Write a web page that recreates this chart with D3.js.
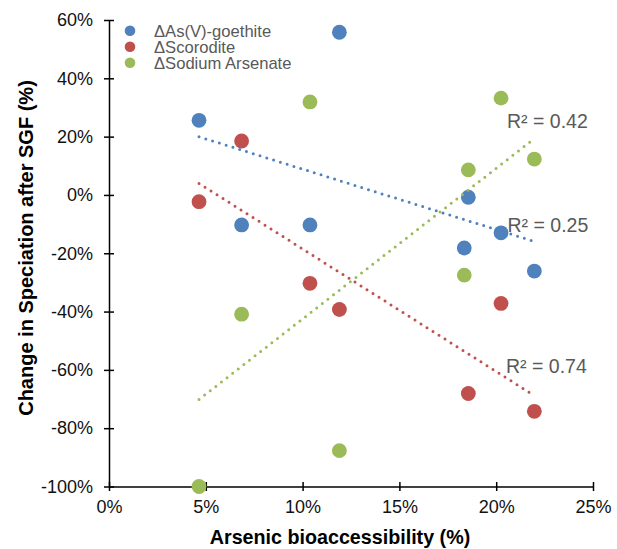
<!DOCTYPE html>
<html>
<head>
<meta charset="utf-8">
<script src="https://cdn.jsdelivr.net/npm/d3@7"></script>
<style>
  html, body { margin: 0; padding: 0; background: #fff; }
  svg { display: block; font-family: "Liberation Sans", Arial, Helvetica, sans-serif; }
</style>
</head>
<body>
<svg id="chart" width="617" height="549"></svg>
<script>
// ---- data ----
const bioaccessibility = [4.65, 6.85, 10.38, 11.9, 18.35, 18.56, 20.25, 21.97]; // %
const goethite  = [25.6, -10.3, -10.3, 55.8, -18.2, -0.8, -13.0, -26.1];
const scorodite = [-2.3, 18.5, -30.3, -39.3, null, -68.1, -37.2, -74.2];
const sodium    = [-100, -40.9, 31.9, -87.7, -27.5, 8.6, 33.2, 12.3];
const seriesNames = ["\u0394As(V)-goethite", "\u0394Scorodite", "\u0394Sodium Arsenate"];
const seriesColors = ["#4F81BD", "#C0504D", "#9BBB59"];
const r2Labels = ["R\u00B2 = 0.25", "R\u00B2 = 0.74", "R\u00B2 = 0.42"];
const xTicks = [0, 5, 10, 15, 20, 25];
const yTicks = [-100, -80, -60, -40, -20, 0, 20, 40, 60];

const svg = d3.select("#chart");
const x = d3.scaleLinear().domain([0, 25]).range([109, 593]);
const y = d3.scaleLinear().domain([-100, 60]).range([486.5, 20]);

const allSeries = [goethite, scorodite, sodium].map((vals, i) => ({
  name: seriesNames[i], color: seriesColors[i], r2: r2Labels[i],
  pts: vals.map((v, j) => ({ x: bioaccessibility[j], y: v })).filter(p => p.y !== null)
}));

// linear regression
function fit(pts) {
  const n = pts.length;
  const mx = d3.mean(pts, p => p.x), my = d3.mean(pts, p => p.y);
  let sxy = 0, sxx = 0;
  pts.forEach(p => { sxy += (p.x - mx) * (p.y - my); sxx += (p.x - mx) ** 2; });
  const b = sxy / sxx, a = my - b * mx;
  const [x0, x1] = d3.extent(pts, p => p.x);
  return [{ x: x0, y: a + b * x0 }, { x: x1, y: a + b * x1 }];
}

// axes
const axisColor = "#000";
const gx = svg.append("g").attr("transform", `translate(0,${y(-100)})`)
  .call(d3.axisBottom(x).tickValues(xTicks).tickFormat(d => d + "%").tickSize(0).tickPadding(14));
const gy = svg.append("g").attr("transform", `translate(${x(0)},0)`)
  .call(d3.axisLeft(y).tickValues(yTicks).tickFormat(d => d + "%").tickSize(0).tickPadding(16));
[gx, gy].forEach(g => {
  g.select(".domain").attr("stroke", axisColor).attr("stroke-width", 1.5);
  g.selectAll("text").attr("font-size", 18).attr("fill", "#111")
    .attr("font-family", "\"Liberation Sans\", Arial, sans-serif");
});
gx.selectAll(".tick").append("line").attr("y1", -4.5).attr("y2", 4.5)
  .attr("stroke", axisColor).attr("stroke-width", 1.5);
gy.selectAll(".tick").append("line").attr("x1", -5).attr("x2", 5)
  .attr("stroke", axisColor).attr("stroke-width", 1.5);

// axis titles
svg.append("text").attr("x", 340).attr("y", 544).attr("text-anchor", "middle")
  .attr("font-size", 19.7).attr("font-weight", "bold").attr("fill", "#000")
  .text("Arsenic bioaccessibility (%)");
svg.append("text").attr("transform", "translate(33,248) rotate(-90)").attr("text-anchor", "middle")
  .attr("font-size", 20).attr("font-weight", "bold").attr("fill", "#000")
  .text("Change in Speciation after SGF (%)");

// points
allSeries.forEach(s => {
  svg.append("g").selectAll("circle").data(s.pts).join("circle")
    .attr("cx", d => x(d.x)).attr("cy", d => y(d.y)).attr("r", 7.4)
    .attr("fill", s.color);
});

// trendlines
const line = d3.line().x(d => x(d.x)).y(d => y(d.y));
allSeries.forEach(s => {
  svg.append("path").attr("d", line(fit(s.pts)))
    .attr("stroke", s.color).attr("stroke-width", 3)
    .attr("stroke-linecap", "round").attr("stroke-dasharray", "0 7.1")
    .attr("fill", "none");
});

// R² labels
const r2Pos = [[507.5, 231.5], [506, 372.5], [507, 128]];
allSeries.forEach((s, i) => {
  svg.append("text").attr("x", r2Pos[i][0]).attr("y", r2Pos[i][1])
    .attr("font-size", 19.5).attr("fill", "#595959").text(s.r2);
});

// legend
const leg = svg.append("g");
allSeries.forEach((s, i) => {
  const ly = 30.7 + i * 16;
  leg.append("circle").attr("cx", 130).attr("cy", ly).attr("r", 5.3).attr("fill", s.color);
  leg.append("text").attr("x", 154).attr("y", ly).attr("dy", "0.36em")
    .attr("font-size", 16.6).attr("fill", "#595959").text(s.name);
});
</script>
</body>
</html>
